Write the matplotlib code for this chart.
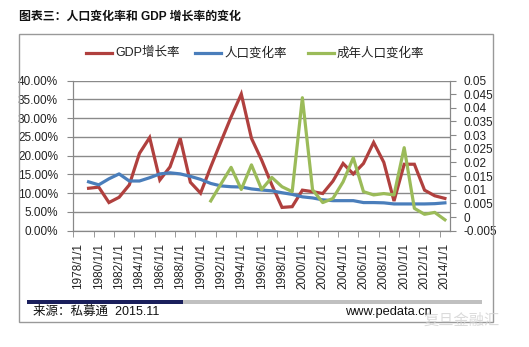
import numpy as np
import matplotlib
matplotlib.use('Agg')
import matplotlib.pyplot as plt
from matplotlib.patches import Rectangle

plt.rcParams['font.family'] = ['Liberation Sans', 'Noto Sans CJK SC', 'DejaVu Sans']

years = list(range(1978, 2015))
# GDP增长率 (左轴, %), 1978 无数据
gdp = [np.nan, 11.3, 11.6, 7.5, 8.9, 12.2, 20.6, 24.8, 13.5, 17.0, 24.6, 12.9,
       10.0, 17.0, 23.7, 30.3, 36.4, 24.6, 18.8, 12.2, 6.2, 6.4, 10.8, 10.4,
       9.9, 13.2, 17.9, 15.1, 17.9, 23.5, 18.2, 7.9, 17.7, 17.7, 10.8, 9.3, 8.6]
# 人口变化率 (右轴)
pop = [np.nan, 0.0129, 0.0118, 0.0140, 0.0158, 0.0132, 0.0132, 0.0144, 0.0158,
       0.0162, 0.0158, 0.0149, 0.0138, 0.0123, 0.0114, 0.0111, 0.0110, 0.0103,
       0.0099, 0.0096, 0.0089, 0.0083, 0.0074, 0.0070, 0.0063, 0.0060, 0.0060,
       0.0060, 0.0053, 0.0053, 0.0052, 0.0048, 0.0048, 0.0048, 0.0048, 0.0049,
       0.0052]
# 成年人口变化率 (右轴), 1991 起
adult = [np.nan] * 13 + [0.0059, 0.0121, 0.0182, 0.0101, 0.0191, 0.0101, 0.0145,
                         0.0111, 0.0093, 0.0437, 0.0100, 0.0053, 0.0068, 0.0129,
                         0.0217, 0.0093, 0.0081, 0.0086, 0.0081, 0.0254, 0.0032,
                         0.0010, 0.0017, -0.0010]

left_ticks = np.arange(0, 41, 5)
right_ticks = [-0.005, 0, 0.005, 0.01, 0.015, 0.02, 0.025, 0.03, 0.035, 0.04, 0.045, 0.05]

red, blue, green = '#B0403E', '#4A7EBB', '#9BBB59'
tc = '#222222'

fig = plt.figure(figsize=(5.29, 3.47), dpi=100)
W, H = 529, 347
ax = fig.add_axes([73.3 / W, 1 - 230.7 / H, (450 - 73.3) / W, (230.7 - 80.5) / H])
ax2 = ax.twinx()

x = np.arange(len(years))
ax.plot(x, gdp, color=red, lw=2.3, solid_joinstyle='miter', zorder=3)
ax2.plot(x, pop, color=blue, lw=2.3, zorder=3)
ax2.plot(x, adult, color=green, lw=2.3, zorder=4)

ax.set_xlim(-0.5, len(years) - 0.5)
ax.set_ylim(0, 40)
ax2.set_ylim(-0.005, 0.05)

ax.set_yticks(left_ticks)
ax.set_yticklabels(['%.2f%%' % v for v in left_ticks], fontsize=8.5, color=tc)
ax2.set_yticks(right_ticks)
ax2.set_yticklabels(['%g' % v for v in right_ticks], fontsize=8.5, color=tc)
ax.yaxis.grid(True, color='#8a8a8a', lw=1)
ax.set_axisbelow(True)

ax.set_xticks(x[::2])
ax.set_xticklabels(['%d/1/1' % y for y in years[::2]], rotation=90, fontsize=8.5, color=tc)
ax.set_xticks(np.arange(-0.5, len(years), 2), minor=True)
ax.tick_params(axis='x', which='major', length=0, pad=9)
ax.tick_params(axis='x', which='minor', length=4, color='#888888')
ax.tick_params(axis='y', length=4, color='#888888', pad=7)
ax2.tick_params(axis='y', length=4, color='#888888', pad=6)

for a in (ax, ax2):
    for s in a.spines.values():
        s.set_color('#888888')
    a.spines['top'].set_visible(False)

# 图例
lx = [(86, 'GDP增长率', red), (195, '人口变化率', blue), (308, '成年人口变化率', green)]
for px, txt, c in lx:
    fig.add_artist(plt.Line2D([px / W, (px + 26) / W], [1 - 53 / H] * 2, color=c, lw=2.3))
    fig.text((px + 29) / W, 1 - 53 / H, txt, fontsize=9, va='center', color=tc)

# 标题与外框
fig.text(19 / W, 1 - 17 / H, '图表三：人口变化率和 GDP 增长率的变化', fontsize=8.6,
         fontweight='bold', va='center', color='#111111')
fig.add_artist(Rectangle((19 / W, 1 - 322 / H), (493 - 19) / W, (322 - 34) / H,
                         transform=fig.transFigure, fill=False, ec='#999999', lw=1))

# 来源栏
fig.add_artist(Rectangle((27 / W, 1 - 303.5 / H), (183 - 27) / W, 3.5 / H,
                         transform=fig.transFigure, color='#1a1f5c', lw=0))
fig.add_artist(Rectangle((183 / W, 1 - 303.5 / H), (482 - 183) / W, 3.5 / H,
                         transform=fig.transFigure, color='#c0c0c0', lw=0))
fig.text(33 / W, 1 - 312 / H, '来源：私募通  2015.11', fontsize=9, va='center', color='#111111')
fig.text(345 / W, 1 - 312 / H, 'www.pedata.cn', fontsize=9.3, va='center', color='#111111')
fig.text(423 / W, 1 - 321 / H, '复旦金融汇', fontsize=11, va='center', color='#d2d2d2', alpha=0.8)

fig.savefig('out.png', dpi=100, facecolor='white')
